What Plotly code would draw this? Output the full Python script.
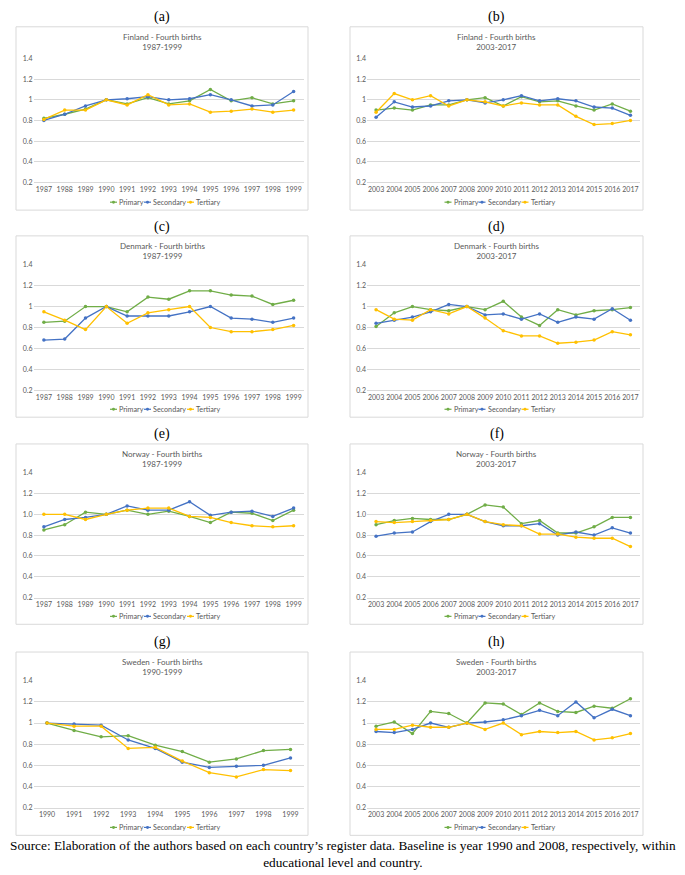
import plotly.graph_objects as go

# ---------------- data ----------------
years_early = [str(y) for y in range(1987, 2000)]
years_sweden_early = [str(y) for y in range(1990, 2000)]
years_late = [str(y) for y in range(2003, 2018)]

fin_early_primary = [0.82, 0.86, 0.91, 1.00, 0.96, 1.02, 0.96, 0.99, 1.10, 0.99, 1.02, 0.96, 0.99]
fin_early_secondary = [0.80, 0.86, 0.94, 1.00, 1.01, 1.03, 1.00, 1.01, 1.05, 1.00, 0.94, 0.95, 1.08]
fin_early_tertiary = [0.81, 0.90, 0.90, 1.00, 0.95, 1.05, 0.95, 0.96, 0.88, 0.89, 0.91, 0.88, 0.90]

fin_late_primary = [0.90, 0.92, 0.90, 0.95, 0.95, 1.00, 1.02, 0.94, 1.03, 0.98, 0.99, 0.94, 0.90, 0.96, 0.89]
fin_late_secondary = [0.83, 0.98, 0.93, 0.94, 0.99, 1.00, 0.97, 1.00, 1.04, 0.99, 1.01, 0.99, 0.93, 0.92, 0.85]
fin_late_tertiary = [0.88, 1.06, 1.00, 1.04, 0.94, 1.00, 0.98, 0.94, 0.97, 0.95, 0.95, 0.84, 0.76, 0.77, 0.80]

den_early_primary = [0.85, 0.86, 1.00, 1.00, 0.95, 1.09, 1.07, 1.15, 1.15, 1.11, 1.10, 1.02, 1.06]
den_early_secondary = [0.68, 0.69, 0.89, 1.00, 0.91, 0.91, 0.91, 0.95, 1.00, 0.89, 0.88, 0.85, 0.89]
den_early_tertiary = [0.95, 0.87, 0.78, 1.00, 0.84, 0.94, 0.97, 1.00, 0.80, 0.76, 0.76, 0.78, 0.82]

den_late_primary = [0.81, 0.94, 1.00, 0.97, 0.96, 1.00, 0.97, 1.05, 0.90, 0.82, 0.97, 0.92, 0.96, 0.97, 0.99]
den_late_secondary = [0.84, 0.87, 0.90, 0.95, 1.02, 1.00, 0.92, 0.93, 0.88, 0.93, 0.85, 0.90, 0.88, 0.98, 0.87]
den_late_tertiary = [0.97, 0.88, 0.87, 0.97, 0.93, 1.00, 0.89, 0.77, 0.72, 0.72, 0.65, 0.66, 0.68, 0.76, 0.73]

nor_early_primary = [0.85, 0.90, 1.02, 1.00, 1.04, 1.00, 1.03, 0.98, 0.92, 1.02, 1.01, 0.94, 1.04]
nor_early_secondary = [0.88, 0.95, 0.97, 1.00, 1.08, 1.04, 1.04, 1.12, 0.99, 1.02, 1.03, 0.98, 1.06]
nor_early_tertiary = [1.00, 1.00, 0.95, 1.00, 1.04, 1.06, 1.06, 0.98, 0.97, 0.92, 0.89, 0.88, 0.89]

nor_late_primary = [0.90, 0.94, 0.96, 0.95, 0.95, 1.00, 1.09, 1.07, 0.91, 0.94, 0.82, 0.82, 0.88, 0.97, 0.97]
nor_late_secondary = [0.79, 0.82, 0.83, 0.93, 1.00, 1.00, 0.93, 0.89, 0.89, 0.91, 0.80, 0.83, 0.80, 0.87, 0.82]
nor_late_tertiary = [0.93, 0.92, 0.93, 0.94, 0.95, 1.00, 0.93, 0.90, 0.89, 0.81, 0.81, 0.78, 0.77, 0.77, 0.69]

swe_early_primary = [1.00, 0.93, 0.87, 0.88, 0.79, 0.73, 0.63, 0.66, 0.74, 0.75]
swe_early_secondary = [1.00, 0.99, 0.98, 0.84, 0.76, 0.63, 0.58, 0.59, 0.60, 0.67]
swe_early_tertiary = [1.00, 0.97, 0.97, 0.76, 0.77, 0.64, 0.53, 0.49, 0.56, 0.55]

swe_late_primary = [0.97, 1.01, 0.90, 1.11, 1.09, 1.00, 1.19, 1.18, 1.08, 1.19, 1.11, 1.10, 1.16, 1.14, 1.23]
swe_late_secondary = [0.92, 0.91, 0.94, 1.00, 0.96, 1.00, 1.01, 1.03, 1.07, 1.12, 1.07, 1.20, 1.05, 1.13, 1.07]
swe_late_tertiary = [0.94, 0.94, 0.98, 0.96, 0.96, 1.00, 0.94, 1.00, 0.89, 0.92, 0.91, 0.92, 0.84, 0.86, 0.90]

series_names = ["Primary", "Secondary", "Tertiary"]
colors = ["#70AD47", "#4472C4", "#FFC000"]

panels = [
    ("Finland - Fourth births", "1987-1999", years_early,
     [fin_early_primary, fin_early_secondary, fin_early_tertiary], "(a)"),
    ("Finland - Fourth births", "2003-2017", years_late,
     [fin_late_primary, fin_late_secondary, fin_late_tertiary], "(b)"),
    ("Denmark - Fourth births", "1987-1999", years_early,
     [den_early_primary, den_early_secondary, den_early_tertiary], "(c)"),
    ("Denmark - Fourth births", "2003-2017", years_late,
     [den_late_primary, den_late_secondary, den_late_tertiary], "(d)"),
    ("Norway - Fourth births", "1987-1999", years_early,
     [nor_early_primary, nor_early_secondary, nor_early_tertiary], "(e)"),
    ("Norway - Fourth births", "2003-2017", years_late,
     [nor_late_primary, nor_late_secondary, nor_late_tertiary], "(f)"),
    ("Sweden - Fourth births", "1990-1999", years_sweden_early,
     [swe_early_primary, swe_early_secondary, swe_early_tertiary], "(g)"),
    ("Sweden - Fourth births", "2003-2017", years_late,
     [swe_late_primary, swe_late_secondary, swe_late_tertiary], "(h)"),
]
decimal_ticks = [False, False, False, False, True, True, False, False]
y_ticks = [0.2, 0.4, 0.6, 0.8, 1.0, 1.2, 1.4]

# ---------------- layout geometry (pixels) ----------------
W, H = 685, 875
col_plot_x = [(33.5, 304), (367, 639.5)]
col_box_x = [(16, 308), (350, 643)]
row_plot_y = [(54, 179), (262, 389), (472, 598), (682, 810)]
row_box_y = [(22, 207), (233, 416), (443, 625), (653, 838)]
row_label_y = [12, 224, 433, 643]
legend_offsets = [-52, -18, 25]   # start of each legend item relative to box centre
legend_line_len = 7


def px(x):
    return x / W


def py(y):
    return 1 - y / H


fig = go.Figure()
shapes, annotations = [], []
axes = {}
grid_col = "#D9D9D9"
text_col = "#595959"

for i, (title, period, cats, vals, label) in enumerate(panels):
    r, c = divmod(i, 2)
    n = i + 1
    xa = "x" if n == 1 else f"x{n}"
    ya = "y" if n == 1 else f"y{n}"
    for name, col, v in zip(series_names, colors, vals):
        fig.add_trace(go.Scatter(
            x=cats, y=v, name=name, mode="lines+markers",
            line=dict(color=col, width=1.3),
            marker=dict(color=col, size=3.5, symbol="circle"),
            xaxis=xa, yaxis=ya, showlegend=False,
        ))
    x0, x1 = col_plot_x[c]
    y0, y1 = row_plot_y[r]
    axes["xaxis" if n == 1 else f"xaxis{n}"] = dict(
        domain=[px(x0), px(x1)], anchor=ya, type="category",
        range=[-0.5, len(cats) - 0.5], showgrid=False, zeroline=False,
        showline=True, linecolor=grid_col, linewidth=1, ticks="",
        tickangle=0, tickfont=dict(size=7, color=text_col), fixedrange=True,
    )
    axes["yaxis" if n == 1 else f"yaxis{n}"] = dict(
        domain=[py(y1), py(y0)], anchor=xa, range=[0.2, 1.4],
        tickvals=y_ticks,
        ticktext=[(f"{t:.1f}" if decimal_ticks[i] else f"{t:g}") for t in y_ticks],
        showgrid=True, gridcolor=grid_col, gridwidth=1, zeroline=False,
        showline=False, ticks="", tickfont=dict(size=7, color=text_col),
        fixedrange=True,
    )
    bx0, bx1 = col_box_x[c]
    by0, by1 = row_box_y[r]
    shapes.append(dict(
        type="rect", xref="paper", yref="paper",
        x0=px(bx0), x1=px(bx1), y0=py(by1), y1=py(by0),
        line=dict(color=grid_col, width=1), fillcolor="rgba(0,0,0,0)",
    ))
    cx = (bx0 + bx1) / 2
    annotations.append(dict(
        text=f"{title}<br>{period}", xref="paper", yref="paper",
        x=px(cx), y=py(by0 + 3), xanchor="center", yanchor="top",
        showarrow=False, font=dict(size=8, color=text_col),
    ))
    annotations.append(dict(
        text=label, xref="paper", yref="paper",
        x=px(cx), y=py(row_label_y[r]), xanchor="center", yanchor="middle",
        showarrow=False, font=dict(family="Liberation Serif, serif", size=14, color="black"),
    ))
    # manual compact legend (Excel style)
    ly = by1 - 8
    for name, col, off in zip(series_names, colors, legend_offsets):
        lx = cx + off
        shapes.append(dict(
            type="line", xref="paper", yref="paper",
            x0=px(lx), x1=px(lx + legend_line_len), y0=py(ly), y1=py(ly),
            line=dict(color=col, width=1.2),
        ))
        mx = lx + legend_line_len / 2
        shapes.append(dict(
            type="circle", xref="paper", yref="paper",
            x0=px(mx - 1.5), x1=px(mx + 1.5), y0=py(ly + 1.5), y1=py(ly - 1.5),
            line=dict(color=col, width=0), fillcolor=col,
        ))
        annotations.append(dict(
            text=name, xref="paper", yref="paper",
            x=px(lx + legend_line_len), y=py(ly), xanchor="left", yanchor="middle",
            showarrow=False, font=dict(size=7.2, color=text_col),
        ))

annotations.append(dict(
    text="Source: Elaboration of the authors based on each country\u2019s register data. Baseline is year 1990 and 2008, respectively, within<br>educational level and country.",
    xref="paper", yref="paper", x=0.5, y=py(857), xanchor="center", yanchor="middle",
    showarrow=False, align="center",
    font=dict(family="Liberation Serif, serif", size=13.3, color="black"),
))

fig.update_layout(
    width=W, height=H,
    margin=dict(l=0, r=0, t=0, b=0),
    paper_bgcolor="white", plot_bgcolor="white",
    font=dict(family="Lato, Liberation Sans, sans-serif", color=text_col),
    shapes=shapes, annotations=annotations, showlegend=False,
    **axes,
)
fig.write_html("out.html", config={"displayModeBar": False},
               post_script="document.body.style.margin='0';")
